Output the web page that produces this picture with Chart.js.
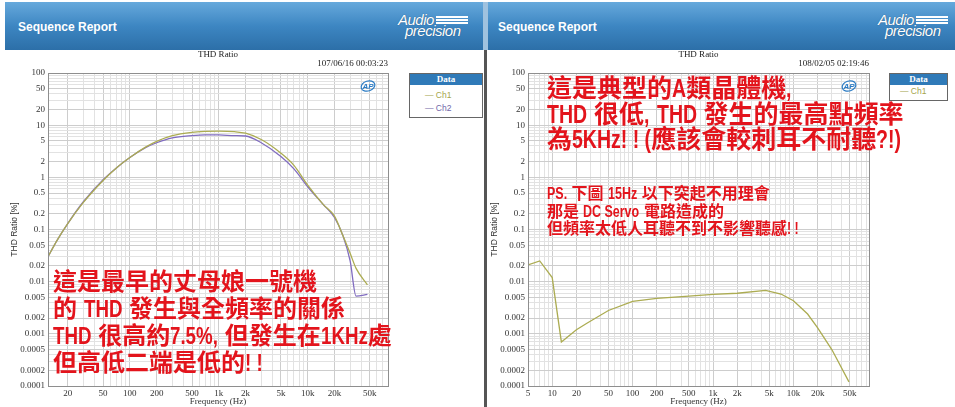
<!DOCTYPE html>
<html>
<head>
<meta charset="utf-8">
<title>THD Ratio</title>
<script src="https://cdn.jsdelivr.net/npm/chart.js@4.4.1/dist/chart.umd.min.js"></script>
<style>
  body { margin: 0; width: 955px; height: 407px; position: relative; overflow: hidden; background: #fff; font-family: "Liberation Sans", Arial, sans-serif; }
  .hdr { position: absolute; top: 2px; height: 48px; background: linear-gradient(#66a9dc, #3d86c2 50%, #2c6fa8); }
  .hdr .name { position: absolute; left: 13px; top: 18px; color: #fff; font: bold 12px "Liberation Sans", Arial, sans-serif; }
  .gap { position: absolute; left: 483px; top: 2px; width: 5px; height: 48px; background: #9fc2df; }
  .sep { position: absolute; left: 484px; top: 50px; width: 3px; bottom: 0; background: #555; }
  .logo { position: absolute; top: 13px; width: 76px; height: 26px; color: #fff; font-style: italic; text-shadow: 0 0 1px #1b4a74; }
  .logo .a { position: absolute; left: 1px; top: 0; font-size: 15px; line-height: 14px; letter-spacing: -0.5px; }
  .logo .bars { position: absolute; left: 39px; top: 3px; width: 32px; height: 9px; background: repeating-linear-gradient(to bottom, #fff 0 2px, transparent 2px 3px); }
  .logo .p { position: absolute; left: 8px; top: 11px; font-size: 15px; line-height: 14px; letter-spacing: -0.5px; }
  .plot { position: absolute; top: 50px; height: 357px; }
  .legend { position: absolute; top: 73px; border: 1px solid #666; background: #fff; font: 8.5px "Liberation Sans", Arial, sans-serif; }
  .legend .head { height: 11px; line-height: 11px; background: #2f7ab8; color: #fff; text-align: center; font: bold 9px "Liberation Serif", serif; }
  .legend .row { height: 13px; line-height: 13px; padding-left: 15px; }
  .note { position: absolute; color: #e3141c; font-weight: bold; font-family: "Liberation Sans", "Noto Sans CJK TC", sans-serif; white-space: nowrap; }
  /* the latin glyphs in the notes are narrow */
  .lat { display: inline-block; transform: scaleX(0.78); transform-origin: 0 50%; }
</style>
</head>
<body>

<div class="hdr" style="left:5px; width:478px;"><span class="name">Sequence Report</span></div>
<div class="hdr" style="left:488px; width:467px;"><span class="name" style="left:10px;">Sequence Report</span></div>
<div class="gap"></div>
<div class="logo" style="left:397px;"><span class="a">Audio</span><span class="bars"></span><span class="p">precision</span></div>
<div class="logo" style="left:877px;"><span class="a">Audio</span><span class="bars"></span><span class="p">precision</span></div>

<div class="plot" style="left:0; width:400px;"><canvas id="leftChart"></canvas></div>
<div class="plot" style="left:487px; width:395px;"><canvas id="rightChart"></canvas></div>
<div class="sep"></div>

<div class="legend" style="left:409px; width:72px; height:43px;">
  <div class="head">Data</div>
  <div class="row" style="color:#a5a54c; margin-top:4px;">— Ch1</div>
  <div class="row" style="color:#6f66a8;">— Ch2</div>
</div>
<div class="legend" style="left:889px; width:57px; height:26px;">
  <div class="head">Data</div>
  <div class="row" style="color:#a5a54c; padding-left:10px;">— Ch1</div>
</div>

<div class="note" style="left:53px; top:268px; font-size:24px; line-height:27px;">
  這是最早的丈母娘一號機<br>的 <span class="lat">THD</span> 發生與全頻率的關係<br><span class="lat">THD</span> 很高約<span class="lat">7.5%,</span> 但發生在<span class="lat">1KHz</span>處<br>但高低二端是低的<span class="lat">! !</span>
</div>
<div class="note" style="left:547px; top:76px; font-size:25px; line-height:25.5px;">
  這是典型的<span class="lat">A</span>類晶體機<span class="lat">,</span><br><span class="lat">THD</span> 很低<span class="lat">,</span> <span class="lat">THD</span> 發生的最高點頻率<br>為<span class="lat">5KHz! ! (</span>應該會較刺耳不耐聽<span class="lat">?!)</span>
</div>
<div class="note" style="left:547px; top:185px; font-size:16px; line-height:17.5px;">
  <span class="lat">PS.</span> 下圖 <span class="lat">15Hz</span> 以下突起不用理會<br>那是 <span class="lat">DC Servo</span> 電路造成的<br>但頻率太低人耳聽不到不影響聽感<span class="lat">! !</span>
</div>

<script>
// left report: first amp, two channels
const freqL = [12, 15, 20, 30, 50, 70, 100, 150, 200, 300, 500, 700, 1000, 1500, 2000, 3000, 5000, 7000, 10000, 15000, 20000, 25000, 30000, 35000, 47000];
const ch1L = [0.03, 0.06, 0.13, 0.33, 0.87, 1.5, 2.4, 3.8, 4.9, 6.3, 7.3, 7.6, 7.7, 7.5, 7.0, 5.3, 2.9, 1.7, 0.71, 0.3, 0.18, 0.075, 0.035, 0.018, 0.0087];
const ch2L = [0.03, 0.06, 0.13, 0.34, 0.9, 1.5, 2.4, 3.7, 4.6, 5.7, 6.3, 6.5, 6.5, 6.3, 6.2, 4.6, 2.5, 1.45, 0.66, 0.3, 0.17, 0.075, 0.025, 0.0053, 0.0057];

// right report: class A transistor amp
const freqR = [5, 7, 10, 13, 20, 27, 50, 100, 200, 500, 1000, 2000, 4500, 7000, 10000, 15000, 20000, 30000, 49000];
const ch1R = [0.021, 0.025, 0.012, 0.0007, 0.0012, 0.0016, 0.0028, 0.0042, 0.0048, 0.0053, 0.0057, 0.006, 0.0068, 0.0058, 0.0043, 0.0024, 0.0013, 0.0005, 0.00012];

const yTickLabels = ["100", "50", "20", "10", "5", "2", "1", "0.5", "0.2", "0.1", "0.05", "0.02", "0.01", "0.005", "0.002", "0.001", "0.0005", "0.0002", "0.0001"];
const xTickValues = [5, 10, 20, 50, 100, 200, 500, 1000, 2000, 5000, 10000, 20000, 50000];
const xTickText = ["5", "10", "20", "50", "100", "200", "500", "1k", "2k", "5k", "10k", "20k", "50k"];

const yTickValues = yTickLabels.map(parseFloat);
const ch1Color = "rgb(172,172,82)";
const ch2Color = "rgb(128,108,192)";

// pull the narrowed latin runs back together
document.querySelectorAll(".lat").forEach(s => {
  s.style.marginRight = (-s.offsetWidth * 0.22) + "px";
});

function findTick(list, value) {
  return list.findIndex(v => Math.abs(v - value) / v < 1e-6);
}

// grid lines at every 1..9 multiple of each decade
function gridTicks(min, max) {
  let out = [];
  for (let e = Math.floor(Math.log10(min)); e <= Math.ceil(Math.log10(max)); e++) {
    for (let m = 1; m <= 9; m++) {
      let v = parseFloat((m * Math.pow(10, e)).toPrecision(6));
      if (v >= min * 0.999999 && v <= max * 1.000001) out.push({ value: v });
    }
  }
  return out;
}

function toPoints(xs, ys) {
  return xs.map((x, i) => ({ x: x, y: ys[i] }));
}

// border, title, timestamp and AP badge round the plot area
const framePlugin = {
  id: "apFrame",
  afterDraw(chart, args, opts) {
    const ctx = chart.ctx;
    const a = chart.chartArea;
    ctx.save();
    ctx.strokeStyle = "#8e8e8e";
    ctx.lineWidth = 1;
    ctx.strokeRect(Math.round(a.left) + 0.5, Math.round(a.top) + 0.5, Math.round(a.right - a.left), Math.round(a.bottom - a.top));
    ctx.fillStyle = "#222";
    ctx.font = '9px "Liberation Serif", serif';
    ctx.textBaseline = "middle";
    ctx.textAlign = "center";
    ctx.fillText(opts.title, (a.left + a.right) / 2, a.top - 18);
    ctx.textAlign = "right";
    ctx.fillText(opts.stamp, a.right, a.top - 9);
    const bx = a.right - 20, by = a.top + 13;
    ctx.strokeStyle = "#2a7bc4";
    ctx.lineWidth = 1.2;
    ctx.beginPath();
    ctx.ellipse(bx, by, 7, 5, -0.3, 0, Math.PI * 2);
    ctx.stroke();
    ctx.fillStyle = "#2a7bc4";
    ctx.font = 'italic bold 8px "Liberation Sans", sans-serif';
    ctx.textAlign = "center";
    ctx.fillText("AP", bx, by + 0.5);
    ctx.restore();
  }
};

function makeChart(id, datasets, opt) {
  const tickFont = { family: '"Liberation Serif", serif', size: 9 };
  return new Chart(document.getElementById(id).getContext("2d"), {
    type: "line",
    data: { datasets: datasets },
    options: {
      responsive: true,
      maintainAspectRatio: false,
      animation: false,
      layout: { padding: { top: 23, right: opt.padRight, left: 0, bottom: 0 } },
      elements: { point: { radius: 0 }, line: { borderWidth: 1.3 } },
      plugins: {
        legend: { display: false },
        tooltip: { enabled: false },
        apFrame: { title: "THD Ratio", stamp: opt.stamp }
      },
      scales: {
        x: {
          type: "logarithmic",
          min: opt.xMin,
          max: opt.xMax,
          afterBuildTicks: s => { s.ticks = gridTicks(s.min, s.max); },
          afterFit: s => { s.height = 21; },
          grid: {
            drawTicks: false,
            color: c => (c.tick && findTick(xTickValues, c.tick.value) >= 0) ? "#cdcdcd" : "#e2e2e2"
          },
          border: { display: true, color: "#8e8e8e" },
          ticks: {
            autoSkip: false, maxRotation: 0, minRotation: 0, padding: 2,
            color: "#333", font: tickFont,
            callback: v => { const i = findTick(xTickValues, v); return i >= 0 ? xTickText[i] : ""; }
          },
          title: { display: true, text: "Frequency (Hz)", color: "#333", font: tickFont, padding: { top: 0, bottom: 0 } }
        },
        y: {
          type: "logarithmic",
          min: 0.0001,
          max: 100,
          afterBuildTicks: s => { s.ticks = gridTicks(s.min, s.max); },
          afterFit: s => { s.width = opt.yWidth; },
          grid: {
            drawTicks: false,
            color: c => (c.tick && findTick(yTickValues, c.tick.value) >= 0) ? "#cdcdcd" : "#e2e2e2"
          },
          border: { display: true, color: "#8e8e8e" },
          ticks: {
            autoSkip: false, padding: 3,
            color: "#333", font: tickFont,
            callback: v => { const i = findTick(yTickValues, v); return i >= 0 ? yTickLabels[i] : ""; }
          },
          title: {
            display: true, text: "THD Ratio [%]", color: "#333",
            font: { family: '"Liberation Sans", sans-serif', size: 8.5 },
            padding: { top: opt.yTitlePad, bottom: 0 }
          }
        }
      }
    },
    plugins: [framePlugin]
  });
}

makeChart("leftChart", [
  { label: "Ch1", data: toPoints(freqL, ch1L), borderColor: ch1Color, cubicInterpolationMode: "monotone" },
  { label: "Ch2", data: toPoints(freqL, ch2L), borderColor: ch2Color, cubicInterpolationMode: "monotone" }
], { xMin: 12, xMax: 80000, yWidth: 48, yTitlePad: 10, padRight: 12, stamp: "107/06/16 00:03:23" });

makeChart("rightChart", [
  { label: "Ch1", data: toPoints(freqR, ch1R), borderColor: ch1Color, tension: 0 }
], { xMin: 5, xMax: 87000, yWidth: 41, yTitlePad: 3, padRight: 13, stamp: "108/02/05 02:19:46" });
</script>
</body>
</html>
